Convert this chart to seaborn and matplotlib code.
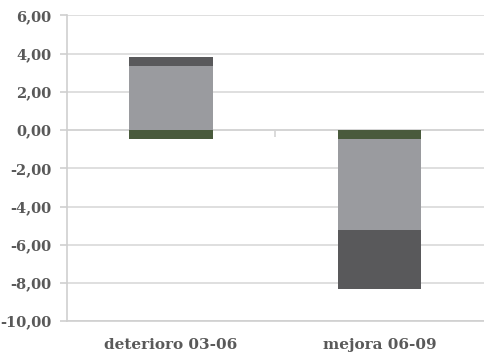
import numpy as np
import pandas as pd
import matplotlib
matplotlib.use("Agg")
import matplotlib.pyplot as plt
import seaborn as sns

# Stacked components per period (order of stacking: green, light grey, dark grey)
categories = ["deterioro 03-06", "mejora 06-09"]
serie_verde = [-0.45, -0.48]
serie_gris_claro = [3.36, -4.75]
serie_gris_oscuro = [0.47, -3.08]
y_ticks = [6, 4, 2, 0, -2, -4, -6, -8, -10]

series = [
    ("verde", serie_verde, "#495a3c"),
    ("gris claro", serie_gris_claro, "#9a9b9f"),
    ("gris oscuro", serie_gris_oscuro, "#59595b"),
]

sns.set_theme(style="white")
plt.rcParams["font.family"] = ["DejaVu Serif"]

fig = plt.figure(figsize=(4.84, 3.6), dpi=100)
ax = fig.add_axes([0.138, 0.108, 0.862, 0.849])

pos_base = np.zeros(len(categories))
neg_base = np.zeros(len(categories))
for name, vals, color in series:
    vals = np.asarray(vals, dtype=float)
    bottoms = np.where(vals >= 0, pos_base, neg_base)
    df = pd.DataFrame({"cat": categories, "val": vals})
    sns.barplot(data=df, x="cat", y="val", bottom=bottoms, color=color,
                saturation=1, width=0.40, ax=ax, zorder=3, linewidth=0,
                errorbar=None)
    pos_base = pos_base + np.where(vals >= 0, vals, 0)
    neg_base = neg_base + np.where(vals < 0, vals, 0)

ax.set_ylim(-10, 6)
ax.set_xlim(-0.5, 1.5)
ax.set_yticks(y_ticks)
ax.set_yticklabels([f"{v:.2f}".replace(".", ",") for v in y_ticks])
ax.yaxis.grid(True, color="#d9d9d9", linewidth=1.2, zorder=0)
ax.set_axisbelow(True)

# horizontal category axis at zero with a boundary tick between the categories
ax.axhline(0, color="#d4d4d4", linewidth=1.2, zorder=2)
ax.vlines(0.5, -0.37, 0, color="#d4d4d4", linewidth=1.2, zorder=2)

for side in ["top", "right"]:
    ax.spines[side].set_visible(False)
ax.spines["left"].set_color("#cfcfcf")
ax.spines["left"].set_linewidth(1.2)
ax.spines["bottom"].set_color("#cfcfcf")
ax.spines["bottom"].set_linewidth(1.2)

ax.tick_params(axis="y", length=5, width=1.2, color="#cfcfcf", pad=6,
               labelsize=10.5, labelcolor="#595959", left=True)
ax.tick_params(axis="x", length=0, pad=12, labelsize=11, labelcolor="#595959")
for lbl in ax.get_yticklabels() + ax.get_xticklabels():
    lbl.set_fontweight("bold")

ax.set_xlabel("")
ax.set_ylabel("")

fig.savefig("out.png", dpi=100)
